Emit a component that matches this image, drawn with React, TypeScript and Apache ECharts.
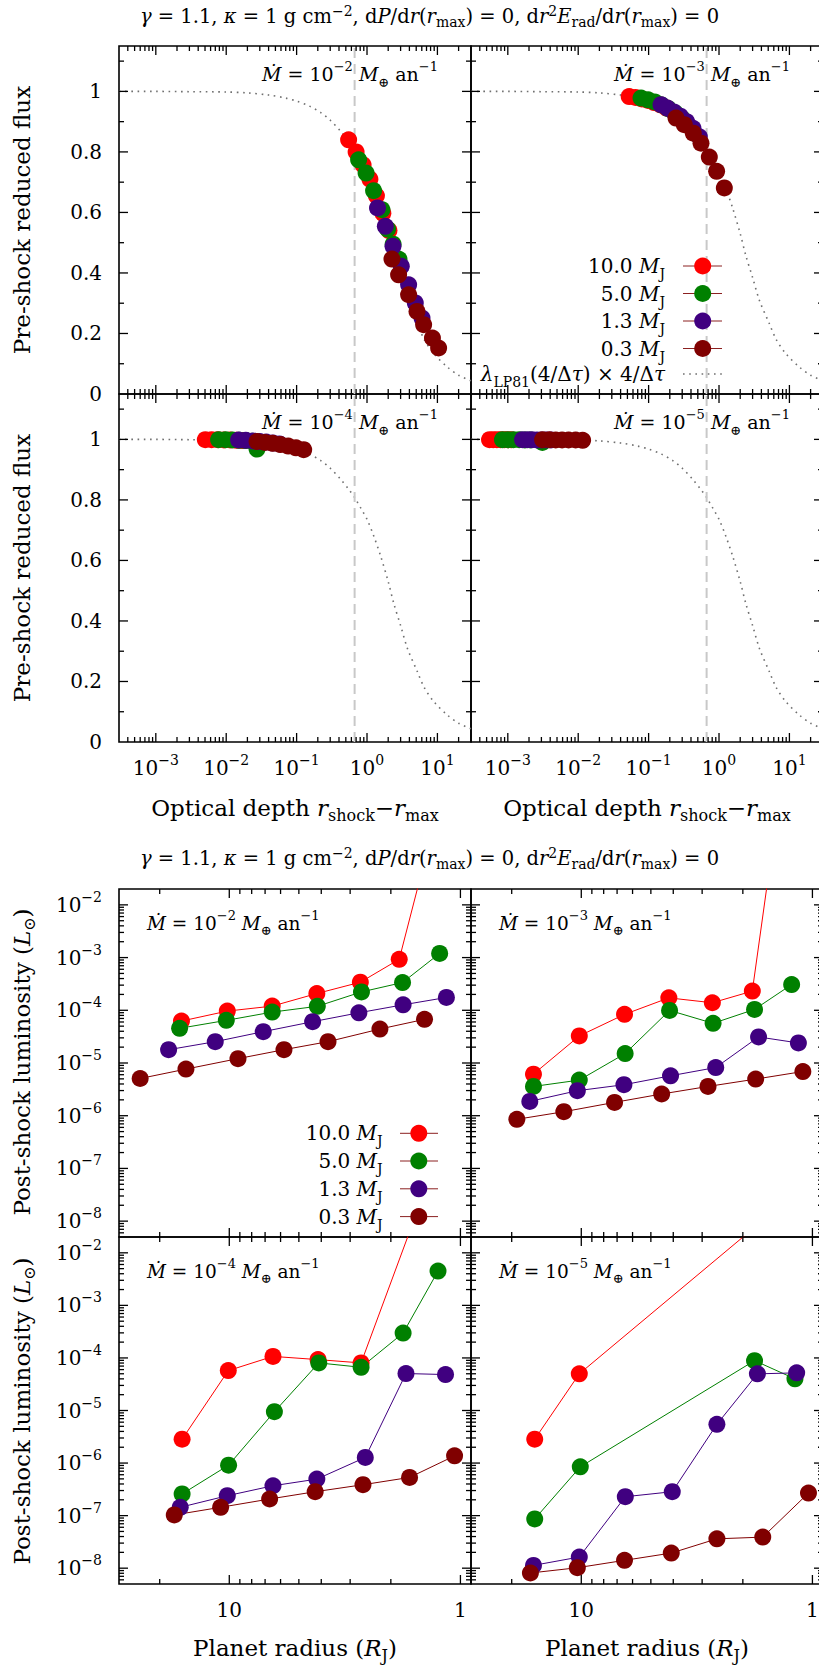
import React, { useEffect, useRef } from 'react';
import * as echarts from 'echarts';

const FONT = '"DejaVu Serif", "Liberation Serif", serif';
const SERIES_COLORS = ['#ff0000', '#008000', '#400080', '#800000'];
const MASS_LABELS = ['10.0', '5.0', '1.3', '0.3'];
const LEGEND_LINE_COLOR = '#8b2020';
const MDOT_EXPONENTS = [-2, -3, -4, -5];

// ---------- Top figure: optical depth vs pre-shock reduced flux ----------
// Mdot = 1e-2
const flux_e2_m100 = [[0.548, 0.840], [0.70, 0.800], [0.88, 0.757], [1.10, 0.710], [1.36, 0.655], [1.68, 0.597], [2.05, 0.540]];
const flux_e2_m50 = [[0.76, 0.774], [0.97, 0.730], [1.24, 0.672], [1.63, 0.609], [1.96, 0.545], [2.35, 0.495], [2.85, 0.445]];
const flux_e2_m13 = [[1.41, 0.615], [1.82, 0.554], [2.34, 0.488], [3.07, 0.422], [3.90, 0.361], [4.85, 0.301], [6.04, 0.251]];
const flux_e2_m03 = [[2.26, 0.446], [2.81, 0.394], [3.90, 0.328], [5.13, 0.273], [6.37, 0.229], [8.5, 0.185], [10.4, 0.152]];
// Mdot = 1e-3
const flux_e3_m100 = [[0.053, 0.983], [0.065, 0.980], [0.080, 0.975], [0.098, 0.970], [0.120, 0.963], [0.148, 0.955], [0.180, 0.945]];
const flux_e3_m50 = [[0.078, 0.978], [0.098, 0.972], [0.122, 0.965], [0.153, 0.955], [0.190, 0.943], [0.240, 0.928], [0.300, 0.910]];
const flux_e3_m13 = [[0.150, 0.956], [0.185, 0.945], [0.228, 0.932], [0.282, 0.918], [0.347, 0.900], [0.427, 0.878], [0.525, 0.850]];
const flux_e3_m03 = [[0.245, 0.912], [0.321, 0.890], [0.431, 0.862], [0.555, 0.829], [0.728, 0.783], [0.925, 0.736], [1.19, 0.681]];
// Mdot = 1e-4
const flux_e4_m100 = [[0.00505, 0.999], [0.0062, 0.999], [0.0076, 0.999], [0.0093, 0.998], [0.0114, 0.998], [0.0140, 0.997], [0.0170, 0.996]];
const flux_e4_m50 = [[0.0078, 0.999], [0.0098, 0.999], [0.0122, 0.998], [0.0153, 0.997], [0.0190, 0.996], [0.0235, 0.994], [0.0274, 0.968]];
const flux_e4_m13 = [[0.0150, 0.998], [0.0190, 0.997], [0.0240, 0.995], [0.0300, 0.993], [0.0370, 0.991], [0.0460, 0.988], [0.0570, 0.985]];
const flux_e4_m03 = [[0.0274, 0.993], [0.0354, 0.990], [0.0457, 0.987], [0.0590, 0.983], [0.0760, 0.978], [0.0980, 0.972], [0.126, 0.966]];
// Mdot = 1e-5
const flux_e5_m100 = [[5.5e-4, 0.999], [6.2e-4, 0.999], [7.0e-4, 0.999], [7.9e-4, 0.999], [8.9e-4, 0.999], [1.0e-3, 0.999], [1.13e-3, 0.999]];
const flux_e5_m50 = [[8.4e-4, 0.999], [1.0e-3, 0.999], [1.2e-3, 0.999], [1.45e-3, 0.999], [1.75e-3, 0.998], [2.1e-3, 0.998], [3.1e-3, 0.990]];
const flux_e5_m13 = [[1.62e-3, 0.999], [1.9e-3, 0.999], [2.2e-3, 0.999], [2.6e-3, 0.998], [3.0e-3, 0.998], [3.5e-3, 0.998], [4.1e-3, 0.998]];
const flux_e5_m03 = [[3.12e-3, 0.999], [3.9e-3, 0.999], [4.8e-3, 0.998], [5.9e-3, 0.998], [7.3e-3, 0.998], [9.2e-3, 0.998], [1.156e-2, 0.997]];

// Dotted reference curve lambda_LP81(4/dtau) x 4/dtau
const lp81Curve = [
  [3e-4, 1.0], [1e-3, 1.0], [3e-3, 0.999], [0.01, 0.998], [0.02, 0.995], [0.04, 0.988], [0.07, 0.978],
  [0.1, 0.968], [0.15, 0.952], [0.22, 0.93], [0.3, 0.905], [0.42, 0.869], [0.55, 0.835], [0.667, 0.808],
  [0.82, 0.772], [1.0, 0.736], [1.25, 0.68], [1.56, 0.615], [2.0, 0.53], [2.42, 0.455], [3.0, 0.385],
  [3.74, 0.31], [5.2, 0.232], [6.5, 0.18], [9.0, 0.132], [13.7, 0.09], [20, 0.062], [30, 0.044],
];
const TAU_REF = 2 / 3;

// ---------- Bottom figure: planet radius vs post-shock luminosity ----------
const lum_e2_m100 = [[16.1, 6.25e-5], [10.2, 9.66e-5], [6.52, 1.2e-4], [4.18, 2.08e-4], [2.71, 3.41e-4], [1.84, 9.27e-4], [1.23, 0.87]];
const lum_e2_m50 = [[16.4, 4.55e-5], [10.3, 6.44e-5], [6.52, 9.24e-5], [4.16, 1.19e-4], [2.68, 2.23e-4], [1.78, 3.36e-4], [1.23, 1.20e-3]];
const lum_e2_m13 = [[18.3, 1.79e-5], [11.5, 2.54e-5], [7.13, 3.93e-5], [4.36, 6.07e-5], [2.75, 8.97e-5], [1.77, 1.27e-4], [1.15, 1.75e-4]];
const lum_e2_m03 = [[24.3, 5.08e-6], [15.4, 7.66e-6], [9.17, 1.21e-5], [5.80, 1.79e-5], [3.74, 2.54e-5], [2.23, 4.41e-5], [1.43, 6.73e-5]];

const lum_e3_m100 = [[16.1, 6.15e-6], [10.2, 3.26e-5], [6.5, 8.37e-5], [4.18, 1.72e-4], [2.71, 1.39e-4], [1.82, 2.31e-4], [1.21, 87]];
const lum_e3_m50 = [[16.1, 3.59e-6], [10.2, 4.74e-6], [6.46, 1.51e-5], [4.15, 9.95e-5], [2.69, 5.66e-5], [1.78, 1.04e-4], [1.23, 3.08e-4]];
const lum_e3_m13 = [[16.7, 1.87e-6], [10.4, 2.98e-6], [6.54, 3.87e-6], [4.11, 5.72e-6], [2.62, 8.2e-6], [1.71, 3.12e-5], [1.15, 2.4e-5]];
const lum_e3_m03 = [[19.0, 8.55e-7], [11.9, 1.19e-6], [7.18, 1.79e-6], [4.49, 2.58e-6], [2.83, 3.59e-6], [1.76, 4.95e-6], [1.10, 6.89e-6]];

const lum_e4_m100 = [[16.0, 2.84e-6], [10.1, 5.74e-5], [6.47, 1.07e-4], [4.13, 9.29e-5], [2.69, 8.04e-5], [1.16, 1.77]];
const lum_e4_m50 = [[16.0, 2.58e-7], [10.07, 9.12e-7], [6.38, 9.48e-6], [4.10, 8.04e-5], [2.69, 6.64e-5], [1.77, 2.97e-4], [1.25, 4.5e-3]];
const lum_e4_m13 = [[16.3, 1.44e-7], [10.2, 2.39e-7], [6.47, 3.70e-7], [4.18, 4.95e-7], [2.58, 1.28e-6], [1.72, 5.05e-5], [1.16, 4.83e-5]];
const lum_e4_m03 = [[17.3, 1.03e-7], [10.9, 1.44e-7], [6.69, 2.07e-7], [4.25, 2.85e-7], [2.64, 3.87e-7], [1.66, 5.33e-7], [1.06, 1.37e-6]];

const lum_e5_m100 = [[15.9, 2.84e-6], [10.2, 4.98e-5], [1.21, 0.126]];
const lum_e5_m50 = [[15.9, 8.65e-8], [10.1, 8.47e-7], [1.78, 8.89e-5], [1.19, 4.0e-5]];
const lum_e5_m13 = [[16.1, 1.13e-8], [10.2, 1.63e-8], [6.45, 2.29e-7], [4.04, 2.85e-7], [2.59, 5.46e-6], [1.73, 4.98e-5], [1.17, 5.2e-5]];
const lum_e5_m03 = [[16.6, 8.1e-9], [10.4, 1.02e-8], [6.5, 1.41e-8], [4.08, 1.94e-8], [2.59, 3.62e-8], [1.64, 3.9e-8], [1.04, 2.69e-7]];

const fluxPanels = [
  [flux_e2_m100, flux_e2_m50, flux_e2_m13, flux_e2_m03],
  [flux_e3_m100, flux_e3_m50, flux_e3_m13, flux_e3_m03],
  [flux_e4_m100, flux_e4_m50, flux_e4_m13, flux_e4_m03],
  [flux_e5_m100, flux_e5_m50, flux_e5_m13, flux_e5_m03],
];
const lumPanels = [
  [lum_e2_m100, lum_e2_m50, lum_e2_m13, lum_e2_m03],
  [lum_e3_m100, lum_e3_m50, lum_e3_m13, lum_e3_m03],
  [lum_e4_m100, lum_e4_m50, lum_e4_m13, lum_e4_m03],
  [lum_e5_m100, lum_e5_m50, lum_e5_m13, lum_e5_m03],
];

// ---------- axes ----------
const DEPTH_RANGE = [3e-4, 30];
const FLUX_RANGE = [0, 1.15];
const RADIUS_RANGE = [0.9, 30];
const LUM_RANGE = [5e-9, 2e-2];
const MANTISSAS = [2, 3, 4, 5, 6, 7, 8, 9];
const DEPTH_MAJOR = [1e-3, 1e-2, 1e-1, 1, 10];
const DEPTH_DECADES = [1e-4, 1e-3, 1e-2, 1e-1, 1, 10];
const FLUX_MAJOR = [0.2, 0.4, 0.6, 0.8, 1.0];
const FLUX_MINOR = [0.1, 0.3, 0.5, 0.7, 0.9, 1.1];
const RADIUS_MAJOR = [10, 1];
const RADIUS_DECADES = [1, 10];
const LUM_MAJOR = [1e-8, 1e-7, 1e-6, 1e-5, 1e-4, 1e-3, 1e-2];
const LUM_DECADES = [1e-9, 1e-8, 1e-7, 1e-6, 1e-5, 1e-4, 1e-3];

const minorList = (decades: number[], range: number[]) => {
  const out: number[] = [];
  decades.forEach((d) => MANTISSAS.forEach((m) => {
    const v = m * d;
    if (v > range[0] * 1.0001 && v < range[1] * 0.9999) out.push(v);
  }));
  return out;
};

// panel boxes [left, top, width, height]
const TOP_BOXES = [[119, 46, 352, 348], [471, 46, 352, 348], [119, 394, 352, 348], [471, 394, 352, 348]];
const BOT_BOXES = [[119, 889, 352, 348], [471, 889, 352, 348], [119, 1237, 352, 347], [471, 1237, 352, 347]];
const CANVAS_W = 840;
const CANVAS_H = 1667;

// ---------- text helpers ----------
type Tok = [string, string];
const minus = (e: number) => (e < 0 ? '\u2212' + Math.abs(e) : String(e));
const rt = (toks: Tok[]) => toks.map(([s, t]) => `{${s}|${t}}`).join('');
const richStyles = (fs: number, lhf = 1.5) => {
  const lh = Math.round(fs * lhf);
  const small = Math.round(fs * 0.7);
  const slh = Math.round(fs * (lhf > 1.4 ? 0.85 : 0.75));
  return {
    n: { fontFamily: FONT, fontSize: fs, lineHeight: lh, color: '#000' },
    i: { fontFamily: FONT, fontSize: fs, fontStyle: 'italic', lineHeight: lh, color: '#000' },
    sp: { fontFamily: FONT, fontSize: small, lineHeight: slh, verticalAlign: 'top', color: '#000' },
    sb: { fontFamily: FONT, fontSize: small, lineHeight: slh, verticalAlign: 'bottom', color: '#000' },
  };
};

const titleToks: Tok[] = [['i', 'γ'], ['n', ' = 1.1, '], ['i', 'κ'], ['n', ' = 1 g cm'], ['sp', '−2'], ['n', ', d'], ['i', 'P'], ['n', '/d'], ['i', 'r'], ['n', '('], ['i', 'r'], ['sb', 'max'], ['n', ') = 0, d'], ['i', 'r'], ['sp', '2'], ['i', 'E'], ['sb', 'rad'], ['n', '/d'], ['i', 'r'], ['n', '('], ['i', 'r'], ['sb', 'max'], ['n', ') = 0']];
const fluxLabelToks: Tok[] = [['n', 'Pre-shock reduced flux']];
const depthLabelToks: Tok[] = [['n', 'Optical depth '], ['i', 'r'], ['sb', 'shock'], ['n', '−'], ['i', 'r'], ['sb', 'max']];
const lumLabelToks: Tok[] = [['n', 'Post-shock luminosity ('], ['i', 'L'], ['sb', '⊙'], ['n', ')']];
const radiusLabelToks: Tok[] = [['n', 'Planet radius ('], ['i', 'R'], ['sb', 'J'], ['n', ')']];
const curveLegendToks: Tok[] = [['i', 'λ'], ['sb', 'LP81'], ['n', '(4/Δ'], ['i', 'τ'], ['n', ') × 4/Δ'], ['i', 'τ']];
const mdotToks = (e: number): Tok[] => [['i', 'Ṁ'], ['n', ' = 10'], ['sp', minus(e)], ['n', ' '], ['i', 'M'], ['sb', '⊕'], ['n', ' an'], ['sp', '−1']];
const massToks = (m: string): Tok[] => [['n', m + ' '], ['i', 'M'], ['sb', 'J']];

const textEl = (toks: Tok[], x: number, y: number, fs: number, align: string, rotation = 0, lhf = 1.5) => ({
  type: 'text', x, y, rotation, z: 20,
  style: { text: rt(toks), rich: richStyles(fs, lhf), align, verticalAlign: 'middle', fill: '#000', font: `${fs}px ${FONT}` },
});

const isDecade = (v: number) => Math.abs(Math.log10(v) - Math.round(Math.log10(v))) < 1e-6;
const powLabel = (v: number) => (isDecade(v) ? `{n|10}{sp|${minus(Math.round(Math.log10(v)))}}` : '');

function tickSeries(gi: number, xMaj: number[], xMin: number[], yMaj: number[], yMin: number[], xRef: number, yRef: number) {
  const data: number[][] = [];
  xMaj.forEach((v) => data.push([v, yRef, 0, 1]));
  xMin.forEach((v) => data.push([v, yRef, 0, 0]));
  yMaj.forEach((v) => data.push([xRef, v, 1, 1]));
  yMin.forEach((v) => data.push([xRef, v, 1, 0]));
  return {
    type: 'custom', xAxisIndex: gi, yAxisIndex: gi, silent: true, clip: false, z: 6,
    data,
    renderItem: (params: any, api: any) => {
      const cs = params.coordSys;
      const p = api.coord([api.value(0), api.value(1)]);
      const len = api.value(3) ? 9 : 5;
      const st = { stroke: '#000', lineWidth: 1.3 };
      if (api.value(2) === 0) {
        const x = p[0];
        return { type: 'group', children: [
          { type: 'line', shape: { x1: x, y1: cs.y + cs.height, x2: x, y2: cs.y + cs.height - len }, style: st },
          { type: 'line', shape: { x1: x, y1: cs.y, x2: x, y2: cs.y + len }, style: st },
        ] };
      }
      const y = p[1];
      return { type: 'group', children: [
        { type: 'line', shape: { x1: cs.x, y1: y, x2: cs.x + len, y2: y }, style: st },
        { type: 'line', shape: { x1: cs.x + cs.width, y1: y, x2: cs.x + cs.width - len, y2: y }, style: st },
      ] };
    },
  };
}

function buildOption() {
  const grid: any[] = [];
  const xAxis: any[] = [];
  const yAxis: any[] = [];
  const series: any[] = [];
  const graphic: any[] = [];
  const hidden = { axisLine: { show: false }, axisTick: { show: false }, splitLine: { show: false }, minorTick: { show: false }, minorSplitLine: { show: false } };
  const depthMinor = minorList(DEPTH_DECADES, DEPTH_RANGE);
  const radiusMinor = minorList(RADIUS_DECADES, RADIUS_RANGE);
  const lumMinor = minorList(LUM_DECADES, LUM_RANGE);
  const gridBase = { show: true, borderColor: '#000', borderWidth: 1.6, containLabel: false, outerBoundsMode: 'none' };

  TOP_BOXES.forEach((b, k) => {
    const gi = k;
    grid.push({ ...gridBase, left: b[0], top: b[1], width: b[2], height: b[3] });
    xAxis.push({
      type: 'log', logBase: 10, gridIndex: gi, min: DEPTH_RANGE[0], max: DEPTH_RANGE[1], ...hidden,
      axisLabel: { show: k >= 2, interval: 0, showMinLabel: false, showMaxLabel: false, margin: 11, formatter: powLabel, rich: richStyles(20) },
    });
    yAxis.push({
      type: 'value', gridIndex: gi, min: FLUX_RANGE[0], max: FLUX_RANGE[1], interval: 0.2, ...hidden,
      axisLabel: {
        show: k % 2 === 0, showMaxLabel: false, margin: 17, fontSize: 20, fontFamily: FONT, color: '#000',
        formatter: (v: number) => (Math.abs(v - Math.round(v)) < 1e-9 ? String(Math.round(v)) : v.toFixed(1)),
      },
    });
    series.push({
      type: 'line', xAxisIndex: gi, yAxisIndex: gi, data: lp81Curve, symbol: 'none', smooth: 0.3, z: 1, silent: true,
      lineStyle: { color: '#707070', width: 1.6, type: [1.6, 4.6] },
    });
    series.push({
      type: 'line', xAxisIndex: gi, yAxisIndex: gi, data: [[TAU_REF, FLUX_RANGE[0]], [TAU_REF, FLUX_RANGE[1]]], symbol: 'none', z: 1, silent: true,
      lineStyle: { color: '#c8c8c8', width: 2, type: [10, 6] },
    });
    fluxPanels[k].forEach((d, si) => {
      series.push({
        type: 'scatter', xAxisIndex: gi, yAxisIndex: gi, data: d, symbol: 'circle', symbolSize: 17, z: 3,
        itemStyle: { color: SERIES_COLORS[si], opacity: 1 },
      });
    });
    series.push(tickSeries(gi, DEPTH_MAJOR, depthMinor, FLUX_MAJOR, FLUX_MINOR, 1, 0.5));
    graphic.push(textEl(mdotToks(MDOT_EXPONENTS[k]), b[0] + b[2] - 33, b[1] + 28, 19, 'right'));
  });

  BOT_BOXES.forEach((b, k) => {
    const gi = k + 4;
    grid.push({ ...gridBase, left: b[0], top: b[1], width: b[2], height: b[3] });
    xAxis.push({
      type: 'log', logBase: 10, gridIndex: gi, min: RADIUS_RANGE[0], max: RADIUS_RANGE[1], inverse: true, ...hidden,
      axisLabel: {
        show: k >= 2, interval: 0, showMinLabel: false, showMaxLabel: false, margin: 11, rich: richStyles(20),
        formatter: (v: number) => (isDecade(v) ? `{n|${Math.round(v)}}` : ''),
      },
    });
    yAxis.push({
      type: 'log', logBase: 10, gridIndex: gi, min: LUM_RANGE[0], max: LUM_RANGE[1], ...hidden,
      axisLabel: { show: k % 2 === 0, interval: 0, showMinLabel: false, showMaxLabel: false, margin: 17, formatter: powLabel, rich: richStyles(20) },
    });
    lumPanels[k].forEach((d, si) => {
      series.push({
        type: 'line', xAxisIndex: gi, yAxisIndex: gi, data: d, symbol: 'circle', symbolSize: 17, showSymbol: true, clip: true, z: 3,
        lineStyle: { color: SERIES_COLORS[si], width: 1 }, itemStyle: { color: SERIES_COLORS[si] },
      });
    });
    series.push(tickSeries(gi, RADIUS_MAJOR, radiusMinor, LUM_MAJOR, lumMinor, 5, 1e-5));
    graphic.push(textEl(mdotToks(MDOT_EXPONENTS[k]), b[0] + 28, b[1] + 34, 18.5, 'left'));
  });

  // titles and axis names
  graphic.push(textEl(titleToks, 429.5, 16, 19.5, 'center', 0, 1.3));
  graphic.push(textEl(titleToks, 429.5, 858, 19.5, 'center', 0, 1.3));
  graphic.push(textEl(fluxLabelToks, 22, 220, 23, 'center', Math.PI / 2, 1.3));
  graphic.push(textEl(fluxLabelToks, 22, 568, 23, 'center', Math.PI / 2, 1.3));
  graphic.push(textEl(depthLabelToks, 295, 808, 23, 'center', 0, 1.3));
  graphic.push(textEl(depthLabelToks, 647, 808, 23, 'center', 0, 1.3));
  graphic.push(textEl(lumLabelToks, 22, 1062, 23, 'center', Math.PI / 2, 1.3));
  graphic.push(textEl(lumLabelToks, 22, 1411, 23, 'center', Math.PI / 2, 1.3));
  graphic.push(textEl(radiusLabelToks, 295, 1648, 23, 'center', 0, 1.3));
  graphic.push(textEl(radiusLabelToks, 647, 1648, 23, 'center', 0, 1.3));

  // legends
  const topRows = [266, 293.5, 321, 348.5];
  MASS_LABELS.forEach((m, i) => {
    const y = topRows[i];
    graphic.push(textEl(massToks(m), 665, y, 20, 'right'));
    graphic.push({ type: 'line', z: 20, shape: { x1: 683, y1: y, x2: 722, y2: y }, style: { stroke: LEGEND_LINE_COLOR, lineWidth: 1 } });
    graphic.push({ type: 'circle', z: 21, shape: { cx: 702.7, cy: y, r: 8.5 }, style: { fill: SERIES_COLORS[i] } });
  });
  graphic.push(textEl(curveLegendToks, 665, 374, 20, 'right'));
  graphic.push({ type: 'line', z: 20, shape: { x1: 683, y1: 374, x2: 722, y2: 374 }, style: { stroke: '#707070', lineWidth: 1.6, lineDash: [1.6, 4.6] } });

  const botRows = [1133.3, 1161, 1188.8, 1216.6];
  MASS_LABELS.forEach((m, i) => {
    const y = botRows[i];
    graphic.push(textEl(massToks(m), 382.7, y, 20, 'right'));
    graphic.push({ type: 'line', z: 20, shape: { x1: 400, y1: y, x2: 438, y2: y }, style: { stroke: LEGEND_LINE_COLOR, lineWidth: 1 } });
    graphic.push({ type: 'circle', z: 21, shape: { cx: 418.8, cy: y, r: 8.5 }, style: { fill: SERIES_COLORS[i] } });
  });

  return { animation: false, backgroundColor: '#fff', grid, xAxis, yAxis, series, graphic };
}

export default function App() {
  const ref = useRef<HTMLDivElement>(null);
  useEffect(() => {
    if (!ref.current) return;
    const chart = echarts.init(ref.current, undefined, { renderer: 'svg', width: CANVAS_W, height: CANVAS_H });
    chart.setOption(buildOption() as any);
    return () => chart.dispose();
  }, []);
  return (
    <div style={{ position: 'absolute', left: 0, top: 0, width: 819, height: 1667, overflow: 'hidden', background: '#fff' }}>
      <div ref={ref} style={{ width: CANVAS_W, height: CANVAS_H }} />
    </div>
  );
}
